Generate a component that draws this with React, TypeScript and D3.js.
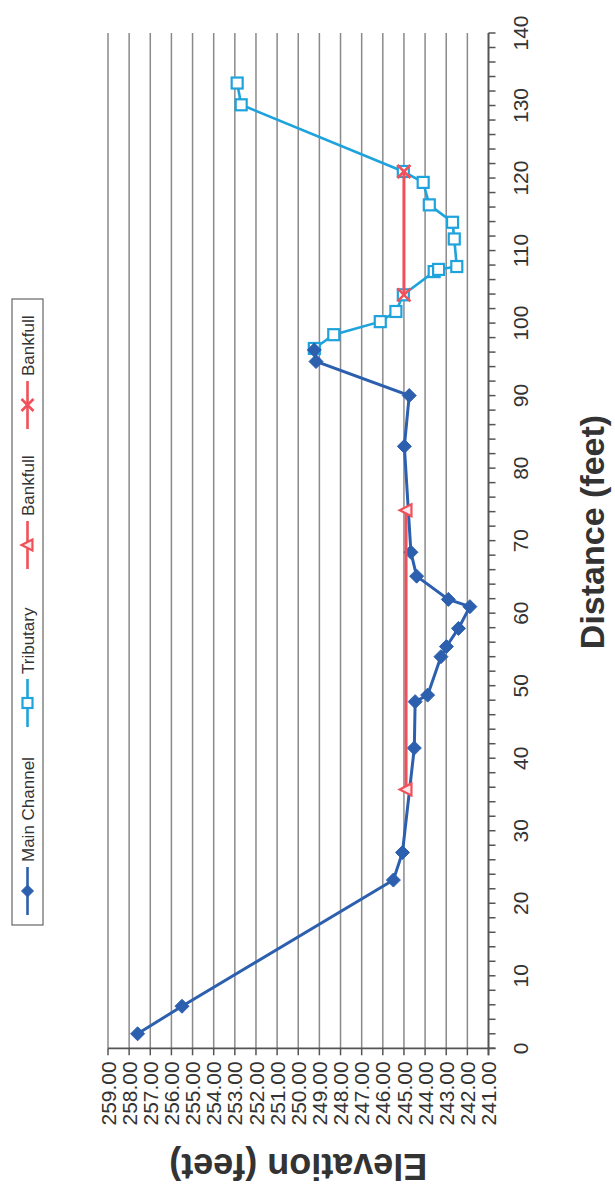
import React from "react";
import * as d3 from "d3";

// ---- data ----
const mainDist = [2, 5.8, 23.2, 27.0, 41.4, 47.8, 48.7, 54.0, 55.4, 57.9, 60.9, 61.9, 65.1, 68.4, 83.0, 90.0, 94.7, 96.3];
const mainElev = [257.6, 255.5, 245.5, 245.07, 244.51, 244.47, 243.88, 243.25, 242.99, 242.42, 241.88, 242.9, 244.4, 244.67, 244.98, 244.75, 249.16, 249.24];
const tribDist = [96.5, 98.4, 100.2, 101.6, 103.9, 107.1, 107.4, 107.8, 111.6, 113.9, 116.3, 119.4, 120.9, 130.1, 133.1];
const tribElev = [249.24, 248.32, 246.12, 245.38, 245.03, 243.57, 243.36, 242.5, 242.62, 242.7, 243.8, 244.09, 245.03, 252.7, 252.89];
const bankTriDist = [35.7, 74.2];
const bankTriElev = [244.9, 244.9];
const bankXDist = [103.9, 120.9];
const bankXElev = [245.0, 245.0];

const distTicks = [0, 10, 20, 30, 40, 50, 60, 70, 80, 90, 100, 110, 120, 130, 140];
const elevTicks = [241, 242, 243, 244, 245, 246, 247, 248, 249, 250, 251, 252, 253, 254, 255, 256, 257, 258, 259];
const legendLabels = ["Main Channel", "Tributary", "Bankfull", "Bankfull"];

const W = 1187; // original (unrotated) width

const C_MAIN = "#2c5fae";
const C_TRIB = "#1ea3dc";
const C_RED = "#f0505a";
const FONT = "'Liberation Sans', Arial, Helvetica, sans-serif";

const x = d3.scaleLinear().domain([0, 140]).range([138.7, 1154]);
const y = d3.scaleLinear().domain([241, 259]).range([488.5, 108]);

type P = [number, number];
const zip = (a: number[], b: number[]): P[] => a.map((d, i) => [d, b[i]]);

const lineGen = d3
  .line<P>()
  .x((d) => x(d[0]))
  .y((d) => y(d[1]));

function Diamond({ cx, cy, r = 7, color }: { cx: number; cy: number; r?: number; color: string }) {
  return <path d={`M${cx},${cy - r}L${cx + r},${cy}L${cx},${cy + r}L${cx - r},${cy}Z`} fill={color} stroke={color} strokeWidth={1} />;
}
function Square({ cx, cy, s = 11, color }: { cx: number; cy: number; s?: number; color: string }) {
  return <rect x={cx - s / 2} y={cy - s / 2} width={s} height={s} fill="white" stroke={color} strokeWidth={2.2} />;
}
function Triangle({ cx, cy, s = 12, color }: { cx: number; cy: number; s?: number; color: string }) {
  const h = s * 0.9;
  return (
    <path
      d={`M${cx},${cy - h / 2 - 1}L${cx + s / 2},${cy + h / 2}L${cx - s / 2},${cy + h / 2}Z`}
      fill="#fde8ea"
      stroke={color}
      strokeWidth={2.2}
    />
  );
}
function XMark({ cx, cy, r = 6.5, color }: { cx: number; cy: number; r?: number; color: string }) {
  return (
    <path d={`M${cx - r},${cy - r}L${cx + r},${cy + r}M${cx - r},${cy + r}L${cx + r},${cy - r}`} stroke={color} strokeWidth={2.6} fill="none" />
  );
}

export default function App() {
  const main = zip(mainDist, mainElev);
  const trib = zip(tribDist, tribElev);
  const bTri = zip(bankTriDist, bankTriElev);
  const bX = zip(bankXDist, bankXElev);

  const minorTicks = d3.range(0, 141, 2);
  const plotTop = y(259);
  const plotBottom = y(241);
  const plotLeft = x(0);
  const plotRight = x(140);

  const legendCenters = [296, 484, 642, 782];
  const legV = 27.5;

  return (
    <svg
      width={615}
      height={1187}
      style={{ position: "absolute", left: 0, top: 0, background: "white" }}
      fontFamily={FONT}
    >
      <rect x={0} y={0} width={615} height={1187} fill="white" />
      {/* gridlines drawn straight in page coordinates: vertical lines, one per elevation */}
      {elevTicks.map((e) => (
        <line key={"g" + e} x1={y(e)} x2={y(e)} y1={W - plotRight} y2={W - plotLeft} stroke="#8a8a8a" strokeWidth={1.5} />
      ))}
      <g transform={`translate(0,${W}) rotate(-90)`}>
        {/* distance axis */}
        <line x1={plotLeft - 7} x2={plotRight} y1={plotBottom} y2={plotBottom} stroke="#555" strokeWidth={1.8} />
        {minorTicks.map((d) => (
          <line key={"mt" + d} x1={x(d)} x2={x(d)} y1={plotBottom} y2={plotBottom + 7} stroke="#555" strokeWidth={1.5} />
        ))}
        {distTicks.map((d) => (
          <text key={"dt" + d} x={x(d)} y={plotBottom + 39} textAnchor="middle" fontSize={21} fill="#333">
            {d}
          </text>
        ))}

        {/* elevation axis */}
        <line x1={plotLeft} x2={plotLeft} y1={plotTop} y2={plotBottom + 7} stroke="#555" strokeWidth={1.8} />
        {elevTicks.map((e) => (
          <line key={"et" + e} x1={plotLeft - 7} x2={plotLeft} y1={y(e)} y2={y(e)} stroke="#555" strokeWidth={1.5} />
        ))}
        {elevTicks.map((e) => (
          <text key={"el" + e} x={plotLeft - 13} y={y(e)} dy="0.36em" textAnchor="end" fontSize={21} fill="#333">
            {e.toFixed(2)}
          </text>
        ))}

        {/* titles */}
        <text x={655} y={604} textAnchor="middle" fontSize={34} fontWeight="bold" fill="#333">
          Distance (feet)
        </text>
        <text transform={`translate(33,${(plotTop + plotBottom) / 2}) rotate(-90)`} textAnchor="middle" fontSize={36} fontWeight="bold" fill="#333">
          Elevation (feet)
        </text>

        {/* series */}
        <path d={lineGen(trib) || ""} fill="none" stroke={C_TRIB} strokeWidth={2.6} />
        {trib.map((p, i) => (
          <Square key={"ts" + i} cx={x(p[0])} cy={y(p[1])} color={C_TRIB} />
        ))}
        <path d={lineGen(main) || ""} fill="none" stroke={C_MAIN} strokeWidth={3} />
        {main.map((p, i) => (
          <Diamond key={"md" + i} cx={x(p[0])} cy={y(p[1])} color={C_MAIN} />
        ))}
        <path d={lineGen(bTri) || ""} fill="none" stroke={C_RED} strokeWidth={3} />
        {bTri.map((p, i) => (
          <Triangle key={"bt" + i} cx={x(p[0])} cy={y(p[1])} color={C_RED} />
        ))}
        <path d={lineGen(bX) || ""} fill="none" stroke={C_RED} strokeWidth={3} />
        {bX.map((p, i) => (
          <XMark key={"bx" + i} cx={x(p[0])} cy={y(p[1])} color={C_RED} />
        ))}

        {/* legend */}
        <rect x={262} y={12} width={626} height={31} fill="white" stroke="#666" strokeWidth={1.2} />
        {legendCenters.map((c, i) => {
          const color = i === 0 ? C_MAIN : i === 1 ? C_TRIB : C_RED;
          return (
            <g key={"lg" + i}>
              <line x1={c - 24} x2={c + 24} y1={legV} y2={legV} stroke={color} strokeWidth={2.6} />
              {i === 0 && <Diamond cx={c} cy={legV} r={6} color={color} />}
              {i === 1 && <Square cx={c} cy={legV} s={10} color={color} />}
              {i === 2 && <Triangle cx={c} cy={legV} s={11} color={color} />}
              {i === 3 && <XMark cx={c} cy={legV} r={6} color={color} />}
              <text x={c + 29} y={legV} dy="0.36em" fontSize={17} fill="#333">
                {legendLabels[i]}
              </text>
            </g>
          );
        })}
      </g>
    </svg>
  );
}
